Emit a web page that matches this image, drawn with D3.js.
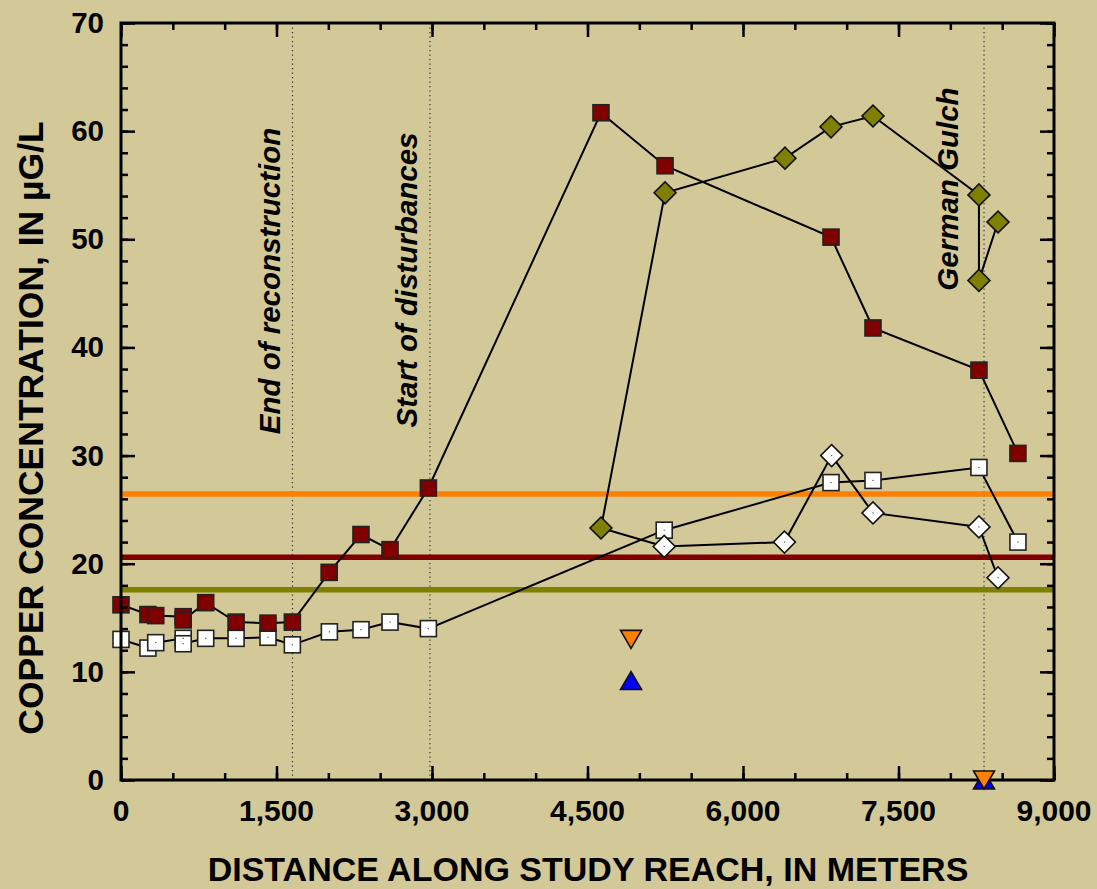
<!DOCTYPE html>
<html>
<head>
<meta charset="utf-8">
<script src="https://cdn.jsdelivr.net/npm/d3@7"></script>
<style>
  html, body { margin: 0; padding: 0; background: #d3c897; }
  svg { display: block; }
  text { font-family: "Liberation Sans", Arial, sans-serif; font-weight: bold; fill: #000; }
</style>
</head>
<body>
<svg id="chart" width="1097" height="889"></svg>
<script>
// Distance along study reach (m) and copper concentration (µg/L)
const redSquareX = [0, 260, 335, 600, 600, 817, 1110, 1418, 1653, 2008, 2315, 2595, 2965, 4630, 5248, 6849, 7254, 8276, 8652];
const redSquareY = [16.2, 15.3, 15.2, 15.1, 14.8, 16.4, 14.6, 14.5, 14.6, 19.2, 22.7, 21.3, 27.0, 61.7, 56.8, 50.2, 41.8, 37.9, 30.2];

const whiteSquareX = [0, 260, 335, 600, 600, 817, 1110, 1418, 1653, 2010, 2315, 2595, 2965, 5240, 6849, 7254, 8276, 8652];
const whiteSquareY = [13.0, 12.2, 12.7, 13.1, 12.6, 13.1, 13.1, 13.2, 12.5, 13.7, 13.9, 14.6, 14.0, 23.1, 27.5, 27.7, 28.9, 22.0];

const oliveDiamondX = [4630, 5248, 6405, 6849, 7254, 8276, 8276, 8460];
const oliveDiamondY = [23.3, 54.3, 57.5, 60.4, 61.4, 54.1, 46.2, 51.6];

const whiteDiamondX = [4630, 5240, 6400, 6855, 7254, 8276, 8460];
const whiteDiamondY = [23.3, 21.6, 22.0, 30.0, 24.7, 23.4, 18.7];

const orangeTriX = [4920, 8325];
const orangeTriY = [13.0, 0];
const blueTriX = [4920, 8325];
const blueTriY = [9.2, 0];

// Reference levels drawn as horizontal bands
const refLevels = [26.45, 20.6, 17.6];
const refColors = ["#ff8000", "#800000", "#808000"];

// Vertical markers along the reach
const markerX = [1654, 2980, 8325];
const markerLabels = ["End of reconstruction", "Start of disturbances", "German Gulch"];

const xTicks = [0, 1500, 3000, 4500, 6000, 7500, 9000];
const yTicks = [0, 10, 20, 30, 40, 50, 60, 70];

const svg = d3.select("#chart");
const W = 1097, H = 889;
const plotL = 121, plotR = 1054, plotT = 23, plotB = 780;

svg.append("rect").attr("width", W).attr("height", H).attr("fill", "#d3c897");

const x = d3.scaleLinear().domain([0, 9000]).range([plotL, plotR]);
const y = d3.scaleLinear().domain([0, 70]).range([plotB, plotT]);

// dotted vertical markers
svg.append("g").selectAll("line").data(markerX).join("line")
  .attr("x1", d => x(d)).attr("x2", d => x(d))
  .attr("y1", plotT).attr("y2", plotB)
  .attr("stroke", "#333").attr("stroke-width", 1.2)
  .attr("stroke-dasharray", "1.3,3.2");

// marker labels (rotated, baseline just left of each dotted line)
const labelPos = [
  { dx: -12, yc: 281 },
  { dx: -13, yc: 280 },
  { dx: -26, yc: 189 }
];
svg.append("g").selectAll("text").data(markerLabels).join("text")
  .attr("transform", (d, i) => `translate(${x(markerX[i]) + labelPos[i].dx},${labelPos[i].yc}) rotate(-90)`)
  .attr("text-anchor", "middle")
  .attr("font-size", 29.5)
  .attr("font-style", "italic")
  .text(d => d);

// horizontal reference levels
svg.append("g").selectAll("line").data(refLevels).join("line")
  .attr("x1", plotL).attr("x2", plotR)
  .attr("y1", d => y(d)).attr("y2", d => y(d))
  .attr("stroke", (d, i) => refColors[i]).attr("stroke-width", 5.5);

const line = d3.line().x(d => x(d[0])).y(d => y(d[1]));
const zip = (a, b) => a.map((v, i) => [v, b[i]]);

const redPts = zip(redSquareX, redSquareY);
const whiteSqPts = zip(whiteSquareX, whiteSquareY);
const olivePts = zip(oliveDiamondX, oliveDiamondY);
const whiteDiaPts = zip(whiteDiamondX, whiteDiamondY);

const lines = svg.append("g").attr("fill", "none").attr("stroke", "#000").attr("stroke-width", 2);
[whiteSqPts, whiteDiaPts, redPts, olivePts].forEach(p => lines.append("path").attr("d", line(p)));

// markers
const sq = 16, dia = 15.5;
function squares(pts, fill) {
  svg.append("g").selectAll("rect").data(pts).join("rect")
    .attr("x", d => x(d[0]) - sq / 2).attr("y", d => y(d[1]) - sq / 2)
    .attr("width", sq).attr("height", sq)
    .attr("fill", fill).attr("stroke", "#222").attr("stroke-width", 1.6);
}
function diamonds(pts, fill) {
  svg.append("g").selectAll("rect").data(pts).join("rect")
    .attr("x", -dia / 2).attr("y", -dia / 2)
    .attr("width", dia).attr("height", dia)
    .attr("transform", d => `translate(${x(d[0])},${y(d[1])}) rotate(45)`)
    .attr("fill", fill).attr("stroke", "#111").attr("stroke-width", 1.6);
}
function centerDots(pts) {
  svg.append("g").selectAll("rect").data(pts).join("rect")
    .attr("x", d => x(d[0]) - 0.6).attr("y", d => y(d[1]) - 0.6)
    .attr("width", 1.2).attr("height", 1.2).attr("fill", "#555");
}

squares(whiteSqPts, "#fff"); centerDots(whiteSqPts);
diamonds(whiteDiaPts.slice(1), "#fff"); centerDots(whiteDiaPts.slice(1));
squares(redPts, "#800000");
diamonds(olivePts, "#808000");

// triangles
const tw = 21, th = 18;
function triangles(xs, ys, fill, up) {
  const pts = zip(xs, ys);
  svg.append("g").selectAll("path").data(pts).join("path")
    .attr("d", d => {
      const cx = x(d[0]), cy = y(d[1]);
      return up
        ? `M${cx - tw / 2},${cy + th / 2}L${cx + tw / 2},${cy + th / 2}L${cx},${cy - th / 2}Z`
        : `M${cx - tw / 2},${cy - th / 2}L${cx + tw / 2},${cy - th / 2}L${cx},${cy + th / 2}Z`;
    })
    .attr("fill", fill).attr("stroke", "#111").attr("stroke-width", 1.6);
}

// axes frame with inward ticks
const frame = svg.append("g");
const xMinor = d3.range(0, 9001, 500);
const yMinor = d3.range(0, 71, 2);

const axB = d3.axisBottom(x).tickValues(xMinor).tickSize(-7).tickFormat("");
const axBM = d3.axisBottom(x).tickValues(xTicks).tickSize(-14).tickFormat("");
const axT = d3.axisTop(x).tickValues(xMinor).tickSize(-7).tickFormat("");
const axTM = d3.axisTop(x).tickValues(xTicks).tickSize(-14).tickFormat("");
const axL = d3.axisLeft(y).tickValues(yMinor).tickSize(-7).tickFormat("");
const axLM = d3.axisLeft(y).tickValues(yTicks).tickSize(-14).tickFormat("");
const axR = d3.axisRight(y).tickValues(yMinor).tickSize(-7).tickFormat("");
const axRM = d3.axisRight(y).tickValues(yTicks).tickSize(-14).tickFormat("");

[[axB, `translate(0,${plotB})`], [axBM, `translate(0,${plotB})`],
 [axT, `translate(0,${plotT})`], [axTM, `translate(0,${plotT})`],
 [axL, `translate(${plotL},0)`], [axLM, `translate(${plotL},0)`],
 [axR, `translate(${plotR},0)`], [axRM, `translate(${plotR},0)`]].forEach(([a, t]) => {
  const g = frame.append("g").attr("transform", t).call(a);
  g.select(".domain").remove();
  g.selectAll(".tick line").attr("stroke", "#000").attr("stroke-width", 2.5);
});
frame.append("rect").attr("x", plotL).attr("y", plotT)
  .attr("width", plotR - plotL).attr("height", plotB - plotT)
  .attr("fill", "none").attr("stroke", "#000").attr("stroke-width", 3);

// triangles sit on top of the frame at the German Gulch point
triangles(blueTriX, blueTriY, "#0000ff", true);
triangles(orangeTriX, orangeTriY, "#ff8000", false);

// tick labels
svg.append("g").selectAll("text").data(xTicks).join("text")
  .attr("x", d => x(d)).attr("y", 821)
  .attr("text-anchor", "middle").attr("font-size", 30)
  .text(d => d3.format(",")(d));
svg.append("g").selectAll("text").data(yTicks).join("text")
  .attr("x", 104).attr("y", d => y(d) + 10)
  .attr("text-anchor", "end").attr("font-size", 29.5)
  .text(d => d);

// axis titles
svg.append("text").attr("x", 588).attr("y", 881)
  .attr("text-anchor", "middle").attr("font-size", 34)
  .text("DISTANCE ALONG STUDY REACH, IN METERS");
svg.append("text").attr("transform", "translate(43,428) rotate(-90)")
  .attr("text-anchor", "middle").attr("font-size", 35.5)
  .text("COPPER CONCENTRATION, IN µG/L");
</script>
</body>
</html>
